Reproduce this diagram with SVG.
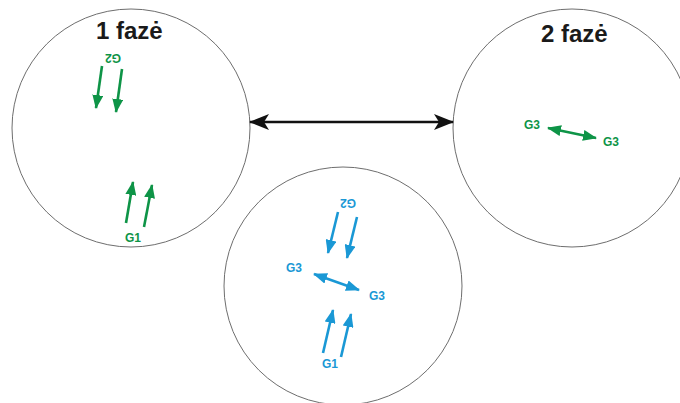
<svg xmlns="http://www.w3.org/2000/svg" width="680" height="403" viewBox="0 0 680 403">
<style>
.ring{fill:#fff;stroke:#6e6e6e;stroke-width:1}
.title{font-family:"Liberation Sans",Arial,sans-serif;font-weight:bold;font-size:24px;fill:#1a1a1a}
.lbl{font-family:"Liberation Sans",Arial,sans-serif;font-weight:bold;font-size:12px}
.g{fill:#0e9447}
.b{fill:#1a98d5}
.ga{stroke:#0e9447;stroke-width:2.6;fill:none}
.ba{stroke:#1a98d5;stroke-width:2.6;fill:none}
.ka{stroke:#111;stroke-width:2.6;fill:none}
</style>
<defs>
<marker id="mg" markerUnits="userSpaceOnUse" viewBox="0 0 14 11" refX="13" refY="5.5" markerWidth="14" markerHeight="11" orient="auto-start-reverse"><path d="M0,0 L14,5.5 L0,11 Z" fill="#0e9447"/></marker>
<marker id="mb" markerUnits="userSpaceOnUse" viewBox="0 0 14 11" refX="13" refY="5.5" markerWidth="14" markerHeight="11" orient="auto-start-reverse"><path d="M0,0 L14,5.5 L0,11 Z" fill="#1a98d5"/></marker>
<marker id="mk" markerUnits="userSpaceOnUse" viewBox="0 0 20 16" refX="19" refY="8" markerWidth="20" markerHeight="16" orient="auto-start-reverse"><path d="M0,0 L20,8 L0,16 L5,8 Z" fill="#111"/></marker>
</defs>
<g id="phase1">
<circle class="ring" cx="131" cy="128" r="119"/>
<text class="title" x="96" y="39">1 fazė</text>
<text class="lbl g" transform="translate(113,58) rotate(180)" text-anchor="middle" y="4">G2</text>
<path class="ga" d="M102,66 L96,108" marker-end="url(#mg)"/>
<path class="ga" d="M122,69 L116,112" marker-end="url(#mg)"/>
<path class="ga" d="M126,223 L133,182" marker-end="url(#mg)"/>
<path class="ga" d="M144,227 L152,185" marker-end="url(#mg)"/>
<text class="lbl g" x="133" y="242" text-anchor="middle">G1</text>
</g>
<g id="phase2">
<circle class="ring" cx="572" cy="128" r="119"/>
<text class="title" x="541" y="42">2 fazė</text>
<text class="lbl g" x="532" y="129" text-anchor="middle">G3</text>
<path class="ga" d="M548,128 L596,138" marker-start="url(#mg)" marker-end="url(#mg)"/>
<text class="lbl g" x="611" y="146" text-anchor="middle">G3</text>
</g>
<g id="mixed">
<circle class="ring" cx="343" cy="286" r="119"/>
<text class="lbl b" transform="translate(348,203) rotate(180)" text-anchor="middle" y="4">G2</text>
<path class="ba" d="M338,212 L328,253" marker-end="url(#mb)"/>
<path class="ba" d="M357,217 L347,258" marker-end="url(#mb)"/>
<text class="lbl b" x="294" y="272" text-anchor="middle">G3</text>
<path class="ba" d="M314,274 L359,290" marker-start="url(#mb)" marker-end="url(#mb)"/>
<text class="lbl b" x="377" y="300" text-anchor="middle">G3</text>
<path class="ba" d="M323,353 L333,310" marker-end="url(#mb)"/>
<path class="ba" d="M341,357 L351,314" marker-end="url(#mb)"/>
<text class="lbl b" x="330" y="368" text-anchor="middle">G1</text>
</g>
<g id="connectors">
<path class="ka" d="M250,122 L453,122" marker-start="url(#mk)" marker-end="url(#mk)"/>
</g>
</svg>
